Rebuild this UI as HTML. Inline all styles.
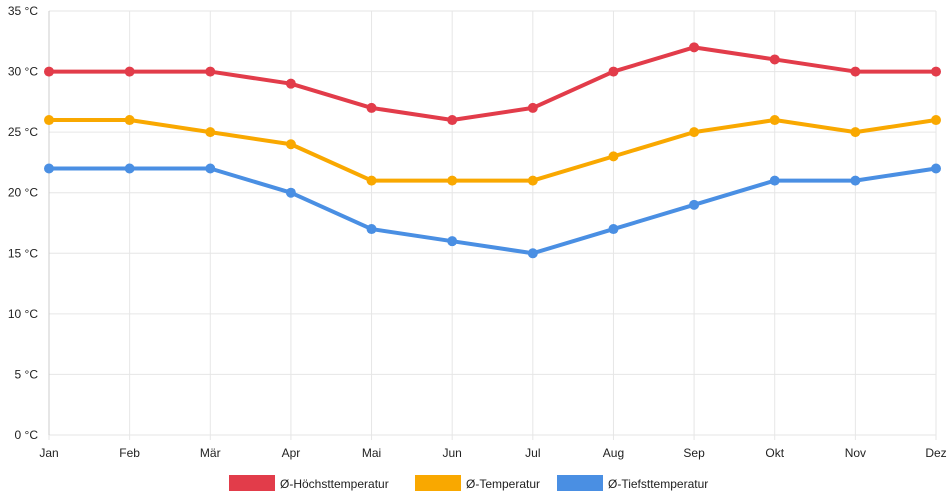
<!DOCTYPE html>
<html><head><meta charset="utf-8"><style>
body{margin:0;background:#fff;}
svg{display:block;font-family:"Liberation Sans",sans-serif;font-size:12px;}
</style></head><body>
<svg id="chart" width="952" height="500"></svg>
<script>
const months=["Jan","Feb","Mär","Apr","Mai","Jun","Jul","Aug","Sep","Okt","Nov","Dez"];
const highTemps=[30,30,30,29,27,26,27,30,32,31,30,30];
const avgTemps=[26,26,25,24,21,21,21,23,25,26,25,26];
const lowTemps=[22,22,22,20,17,16,15,17,19,21,21,22];
const yTicks=[0,5,10,15,20,25,30,35];
const seriesNames=["Ø-Höchsttemperatur","Ø-Temperatur","Ø-Tiefsttemperatur"];
const seriesColors=["#e23c4a","#f9a800","#4a8fe3"];
const NS="http://www.w3.org/2000/svg";
const svg=document.getElementById('chart');
const x0=49,x1=936,y0=435,yTop=11;
const xs=i=>x0+i*(x1-x0)/(months.length-1);
const ys=v=>y0-v*(y0-yTop)/35;
function mk(t,a){const e=document.createElementNS(NS,t);for(const k in a)e.setAttribute(k,a[k]);svg.appendChild(e);return e;}
yTicks.forEach(v=>{
 const g=mk('line',{x1:x0,x2:x1,y1:ys(v),y2:ys(v),stroke:'#e6e6e6','stroke-width':1});
 
 
 const t=mk('text',{x:x0-11,y:ys(v)+4,'text-anchor':'end',fill:'#222'});
 t.textContent=v+' °C';
 
 
});
months.forEach((m,i)=>{
 const g=mk('line',{x1:xs(i),x2:xs(i),y1:yTop,y2:y0+5,stroke:'#e6e6e6','stroke-width':1});
 
 
 const t=mk('text',{x:xs(i),y:y0+22,'text-anchor':'middle',fill:'#222'});
 t.textContent=m;
 
 
});
const ax=mk('line',{x1:x0,x2:x0,y1:yTop,y2:y0,stroke:'#ccc'});


[highTemps,avgTemps,lowTemps].forEach((d,s)=>{
 const p=mk('polyline',{points:d.map((v,i)=>xs(i)+','+ys(v)).join(' '),fill:'none',stroke:seriesColors[s],'stroke-width':4,'stroke-linejoin':'round'});
 
 
 d.forEach((v,i)=>{
  const c=mk('circle',{cx:xs(i),cy:ys(v),r:5,fill:seriesColors[s]});
  
  
 });
});
const legendX=[229,415,557];
seriesNames.forEach((n,s)=>{
 const r=mk('rect',{x:legendX[s],y:475,width:46,height:16,fill:seriesColors[s]});
 
 
 const t=mk('text',{x:legendX[s]+51,y:488,fill:'#222'});
 t.textContent=n;
 
 
});
</script>
</body></html>
